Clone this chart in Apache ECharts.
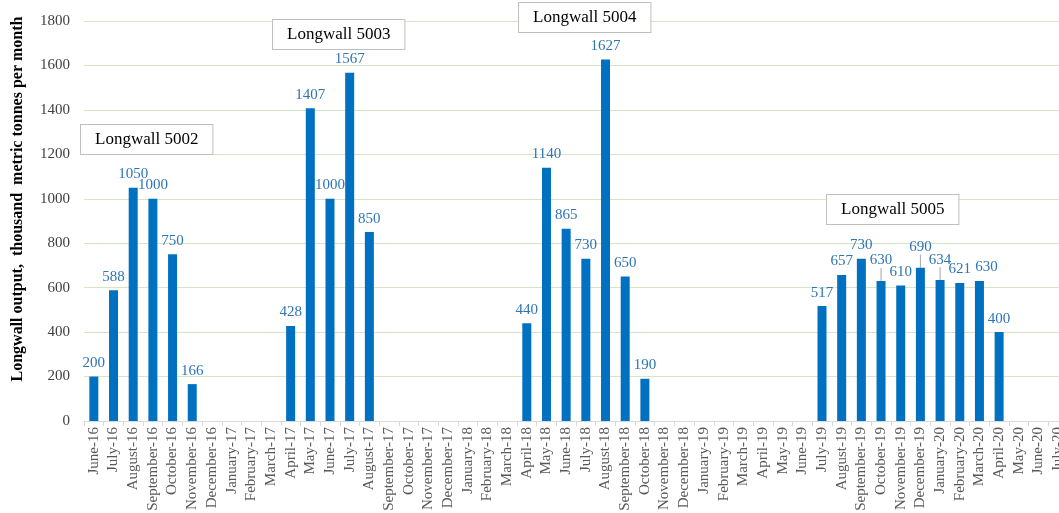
<!DOCTYPE html>
<html>
<head>
<meta charset="utf-8">
<script src="https://cdn.jsdelivr.net/npm/echarts@6/dist/echarts.min.js"></script>
<style>
html, body { margin: 0; padding: 0; background: #fff; }
#main { width: 1059px; height: 513px; }
</style>
</head>
<body>
<div id="main"></div>
<script>
var months = ['June-16','July-16','August-16','September-16','October-16','November-16','December-16',
  'January-17','February-17','March-17','April-17','May-17','June-17','July-17','August-17','September-17','October-17','November-17','December-17',
  'January-18','February-18','March-18','April-18','May-18','June-18','July-18','August-18','September-18','October-18','November-18','December-18',
  'January-19','February-19','March-19','April-19','May-19','June-19','July-19','August-19','September-19','October-19','November-19','December-19',
  'January-20','February-20','March-20','April-20','May-20','June-20','July-20'];

var output = [200, 588, 1050, 1000, 750, 166, null,
  null, null, null, 428, 1407, 1000, 1567, 850, null, null, null, null,
  null, null, null, 440, 1140, 865, 730, 1627, 650, 190, null, null,
  null, null, null, null, null, null, 517, 657, 730, 630, 610, 690,
  634, 621, 630, 400, null, null, null];

// labels lifted with a leader line
var liftedLabels = ['October-19', 'December-19', 'January-20'];
// labels nudged sideways
var shiftedLabels = ['March-20'];

var panels = ['Longwall 5002', 'Longwall 5003', 'Longwall 5004', 'Longwall 5005'];

var serif = '"Liberation Serif", "Times New Roman", serif';
var barColor = '#0070c0';
var labelColor = '#2e75b6';

var chart = echarts.init(document.getElementById('main'));

var panelPos = [[80, 124], [272, 19], [518, 2], [826, 194]];
var graphics = [];
panels.forEach(function (p, k) {
  graphics.push({
    type: 'text',
    left: panelPos[k][0],
    top: panelPos[k][1],
    z: 100,
    style: {
      text: p,
      font: '17px ' + serif,
      fill: '#000',
      backgroundColor: '#fff',
      borderColor: '#bfbfbf',
      borderWidth: 1,
      padding: [6, 14, 6, 14]
    }
  });
});

var barData = output.map(function (v, i) {
  if (liftedLabels.indexOf(months[i]) >= 0) {
    return { value: v, labelLine: { show: true } };
  }
  return v;
});

var option = {
  backgroundColor: '#fff',
  animation: false,
  grid: { left: 84, right: -9, top: 21, bottom: 92, outerBoundsMode: 'none', containLabel: false },
  xAxis: {
    type: 'category',
    data: months,
    axisLine: { lineStyle: { color: '#d9d9d9' } },
    axisTick: { show: true, length: 5, lineStyle: { color: '#d9d9d9' } },
    axisLabel: {
      rotate: 90,
      interval: 0,
      margin: 6,
      fontFamily: serif,
      fontSize: 15,
      color: '#595959'
    }
  },
  yAxis: {
    type: 'value',
    min: 0,
    max: 1800,
    interval: 200,
    name: 'Longwall output,  thousand  metric tonnes per month',
    nameLocation: 'middle',
    nameGap: 58,
    nameTextStyle: {
      fontFamily: serif, fontSize: 16, fontWeight: 'bold', color: '#000',
      padding: [0, 0, 0, 44]
    },
    axisLine: { show: false },
    axisTick: { show: false },
    axisLabel: {
      fontFamily: serif, fontSize: 15, color: '#404040', margin: 14,
      formatter: function (v) { return String(v); }
    },
    splitLine: { lineStyle: { color: '#d6e5c4' } }
  },
  series: [{
    type: 'bar',
    data: barData,
    barWidth: 9,
    itemStyle: { color: barColor },
    label: {
      show: true,
      position: 'top',
      distance: 6,
      fontFamily: serif,
      fontSize: 15,
      color: labelColor
    },
    labelLine: { show: false, lineStyle: { color: '#a6a6a6', width: 1 } },
    labelLayout: function (params) {
      var m = months[params.dataIndex];
      if (liftedLabels.indexOf(m) >= 0) {
        return { dy: -7 };
      }
      if (shiftedLabels.indexOf(m) >= 0) {
        return { dx: 7 };
      }
      return {};
    }
  }],
  graphic: graphics
};

chart.setOption(option);
window.onresize = chart.resize;
</script>
</body>
</html>
